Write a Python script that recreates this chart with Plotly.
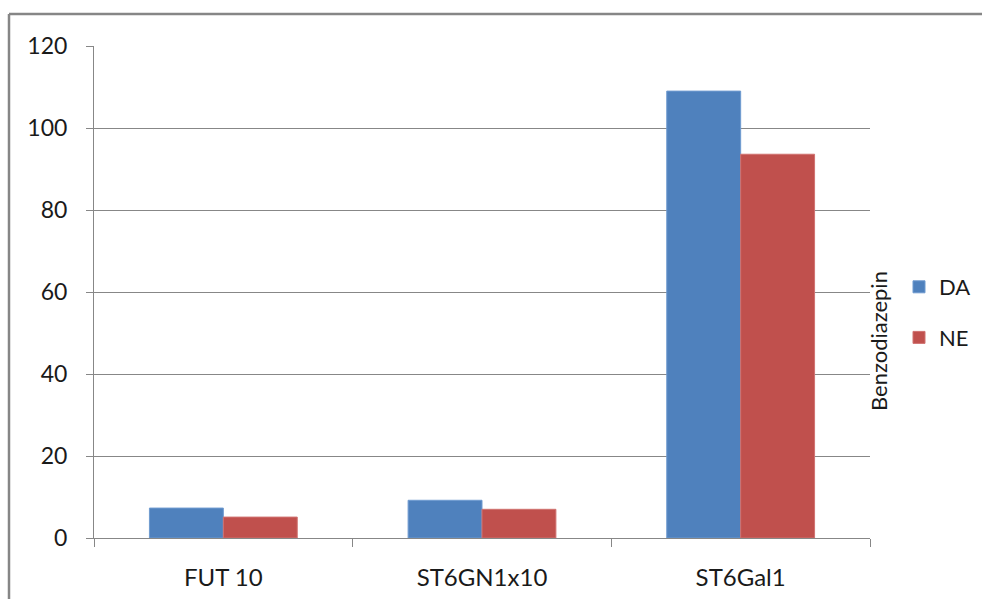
import plotly.graph_objects as go

categories = ["FUT 10", "ST6GN1x10", "ST6Gal1"]
da_values = [7.3, 9.2, 109.0]
ne_values = [5.1, 7.0, 93.6]
series_names = ["DA", "NE"]
y_title = "Benzodiazepin"
y_ticks = [0, 20, 40, 60, 80, 100, 120]

W, H = 982, 599
L, R, T, B = 94, 870, 46, 538
pw, ph = R - L, B - T

def px_x(px):
    return (px - L) / pw

def px_y(py):
    return (B - py) / ph

FONT = "Lato"
GRID = "#878787"

fig = go.Figure()
fig.add_trace(go.Bar(x=categories, y=da_values, name=series_names[0],
                     marker=dict(color="#4F81BD", line=dict(color="#6f9bd0", width=1)),
                     legendgroup="a"))
fig.add_trace(go.Bar(x=categories, y=ne_values, name=series_names[1],
                     marker=dict(color="#C0504D", line=dict(color="#d07270", width=1)),
                     legendgroup="b"))

fig.update_layout(
    width=W, height=H,
    margin=dict(l=L, r=W - R, t=T, b=H - B, autoexpand=False),
    paper_bgcolor="white", plot_bgcolor="white",
    barmode="group", bargap=1.5 / 3.5, bargroupgap=0,
    font=dict(family=FONT, color="#1a1a1a", size=23),
    xaxis=dict(
        showline=True, linecolor=GRID, linewidth=1,
        ticks="outside", tickson="boundaries", ticklen=8, tickcolor=GRID,
        tickfont=dict(size=24), ticklabelstandoff=18,
        showgrid=False, automargin=False,
    ),
    yaxis=dict(
        range=[0, 120], tickvals=y_ticks,
        showline=True, linecolor=GRID, linewidth=1,
        ticks="outside", ticklen=7, tickcolor=GRID,
        showgrid=True, gridcolor=GRID, gridwidth=1,
        tickfont=dict(size=23), ticklabelstandoff=14,
        zeroline=False, automargin=False,
    ),
    legend=dict(
        x=px_x(899), y=px_y(266), xanchor="left", yanchor="top",
        font=dict(size=22), tracegroupgap=19, bgcolor="rgba(0,0,0,0)",
        itemwidth=30,
    ),
    showlegend=True,
    annotations=[dict(
        text=y_title, textangle=-90, x=px_x(878), y=px_y(341),
        xref="paper", yref="paper", showarrow=False,
        font=dict(size=22, family=FONT, color="#1a1a1a"),
        xanchor="center", yanchor="middle",
    )],
    shapes=[
        dict(type="line", xref="paper", yref="paper",
             x0=px_x(9), x1=px_x(9), y0=px_y(14), y1=px_y(640),
             line=dict(color="#868686", width=2.5)),
        dict(type="line", xref="paper", yref="paper",
             x0=px_x(9), x1=px_x(1000), y0=px_y(14), y1=px_y(14),
             line=dict(color="#868686", width=2.5)),
    ],
)

fig.write_html("out.html", config={"displayModeBar": False},
               post_script="document.body.style.margin='0';document.body.style.overflow='hidden';")
